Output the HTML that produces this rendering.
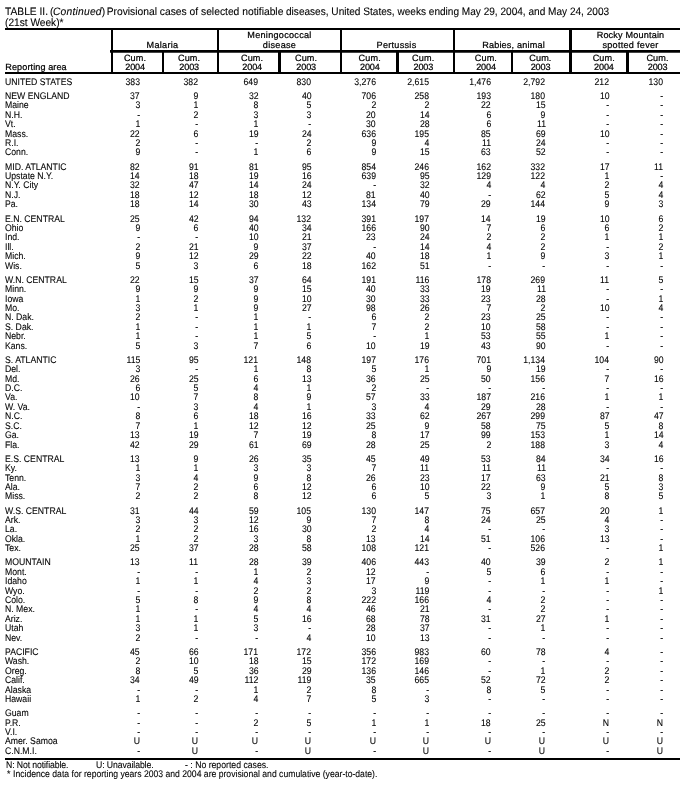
<!DOCTYPE html>
<html lang="en"><head><meta charset="utf-8"><title>TABLE II. Provisional cases of selected notifiable diseases</title>
<style>
html,body{margin:0;padding:0;background:#fff;}
body{width:687px;height:791px;position:relative;overflow:hidden;font-family:"Liberation Sans",sans-serif;color:#000;text-rendering:geometricPrecision;-webkit-text-stroke:0.1px #000;}
.l{position:absolute;background:#000;}
.r{position:absolute;left:0;width:687px;height:9.6px;line-height:9.6px;font-size:9.6px;white-space:nowrap;}
.r b{font-weight:normal;position:absolute;top:0;left:5.3px;transform:scaleX(0.905);transform-origin:0 50%;}
.r i{font-style:normal;position:absolute;top:0;transform:scaleX(0.905);transform-origin:100% 50%;}
.r i.m{margin-right:1px;}
.r .c0{right:546.9px;}
.r .c1{right:488.8px;}
.r .c2{right:428.6px;}
.r .c3{right:375.8px;}
.r .c4{right:311.0px;}
.r .c5{right:257.7px;}
.r .c6{right:196.0px;}
.r .c7{right:141.5px;}
.r .c8{right:77.8px;}
.r .c9{right:23.7px;}
.h{position:absolute;font-size:9.1px;line-height:9.1px;height:9.1px;letter-spacing:0.28px;white-space:nowrap;transform:translateX(-50%);-webkit-text-stroke:0.22px #000;}
.t em{letter-spacing:0.22px;margin-left:-0.5px}.t{position:absolute;left:5.3px;font-size:10.8px;line-height:10.8px;height:10.8px;white-space:nowrap;transform:scaleX(0.94);transform-origin:0 50%;}
.f{position:absolute;font-size:9.6px;line-height:9.6px;height:9.6px;white-space:nowrap;transform:scaleX(0.905);transform-origin:0 50%;}
</style></head><body>
<div class="t" style="top:7px;transform:scaleX(0.948)">TABLE II.</div>
<div class="t" style="top:7px;left:49.6px;transform:scaleX(0.953)">(<em>Continued</em>)<span style="margin-left:-1.5px"> </span>Provisional cases of selected notifiable</div>
<div class="t" style="top:7px;left:285.6px;transform:scaleX(0.933)">diseases, United States, weeks ending May 29, 2004, and May 24, 2003</div>
<div class="t" style="top:18px">(21st Week)*</div>
<div class="l" style="left:5px;top:28px;width:675px;height:2px"></div>
<div class="l" style="left:110px;top:50px;width:570px;height:2px"></div>
<div class="l" style="left:110px;top:52px;width:570px;height:1px;background:#444"></div>
<div class="l" style="left:5px;top:72px;width:675px;height:2px"></div>
<div class="l" style="left:5px;top:758px;width:675px;height:2px"></div>
<div class="l" style="left:111px;top:28px;width:2px;height:45px"></div>
<div class="l" style="left:217px;top:28px;width:2px;height:45px"></div>
<div class="l" style="left:340px;top:28px;width:2px;height:45px"></div>
<div class="l" style="left:453px;top:28px;width:2px;height:45px"></div>
<div class="l" style="left:569px;top:28px;width:3px;height:45px"></div>
<div class="l" style="left:162px;top:51px;width:2px;height:22px"></div>
<div class="l" style="left:278px;top:51px;width:3px;height:22px"></div>
<div class="l" style="left:396px;top:51px;width:3px;height:22px"></div>
<div class="l" style="left:511px;top:51px;width:2px;height:22px"></div>
<div class="l" style="left:626px;top:51px;width:3px;height:22px"></div>
<div class="h" style="left:5.3px;transform:none;letter-spacing:0.09px;top:63.00px">Reporting area</div>
<div class="h" style="left:162.5px;top:41.00px">Malaria</div>
<div class="h" style="left:279.5px;top:31.00px">Meningococcal</div>
<div class="h" style="left:279.5px;top:41.00px">disease</div>
<div class="h" style="left:396.5px;top:41.00px">Pertussis</div>
<div class="h" style="left:513.5px;top:41.00px;letter-spacing:0.18px">Rabies, animal</div>
<div class="h" style="left:630.5px;top:31.00px;letter-spacing:0.18px">Rocky Mountain</div>
<div class="h" style="left:630.5px;top:41.00px">spotted fever</div>
<div class="h" style="left:135.0px;top:54.00px;letter-spacing:0.12px">Cum.</div>
<div class="h" style="left:135.1px;top:63.00px;letter-spacing:-0.15px">2004</div>
<div class="h" style="left:189.1px;top:54.00px;letter-spacing:0.12px">Cum.</div>
<div class="h" style="left:189.2px;top:63.00px;letter-spacing:-0.15px">2003</div>
<div class="h" style="left:252.1px;top:54.00px;letter-spacing:0.12px">Cum.</div>
<div class="h" style="left:252.2px;top:63.00px;letter-spacing:-0.15px">2004</div>
<div class="h" style="left:306.1px;top:54.00px;letter-spacing:0.12px">Cum.</div>
<div class="h" style="left:306.2px;top:63.00px;letter-spacing:-0.15px">2003</div>
<div class="h" style="left:369.70000000000005px;top:54.00px;letter-spacing:0.12px">Cum.</div>
<div class="h" style="left:369.8px;top:63.00px;letter-spacing:-0.15px">2004</div>
<div class="h" style="left:423.20000000000005px;top:54.00px;letter-spacing:0.12px">Cum.</div>
<div class="h" style="left:423.3px;top:63.00px;letter-spacing:-0.15px">2003</div>
<div class="h" style="left:485.90000000000003px;top:54.00px;letter-spacing:0.12px">Cum.</div>
<div class="h" style="left:486.0px;top:63.00px;letter-spacing:-0.15px">2004</div>
<div class="h" style="left:540.4px;top:54.00px;letter-spacing:0.12px">Cum.</div>
<div class="h" style="left:540.5px;top:63.00px;letter-spacing:-0.15px">2003</div>
<div class="h" style="left:603.8000000000001px;top:54.00px;letter-spacing:0.12px">Cum.</div>
<div class="h" style="left:603.9000000000001px;top:63.00px;letter-spacing:-0.15px">2004</div>
<div class="h" style="left:657.5px;top:54.00px;letter-spacing:0.12px">Cum.</div>
<div class="h" style="left:657.6px;top:63.00px;letter-spacing:-0.15px">2003</div>
<div class="r" style="top:78.00px"><b>UNITED STATES</b><i class="c0">383</i><i class="c1">382</i><i class="c2">649</i><i class="c3">830</i><i class="c4">3,276</i><i class="c5">2,615</i><i class="c6">1,476</i><i class="c7">2,792</i><i class="c8">212</i><i class="c9">130</i></div>
<div class="r" style="top:92.00px"><b>NEW ENGLAND</b><i class="c0">37</i><i class="c1">9</i><i class="c2">32</i><i class="c3">40</i><i class="c4">706</i><i class="c5">258</i><i class="c6">193</i><i class="c7">180</i><i class="c8">10</i><i class="c9">-</i></div>
<div class="r" style="top:101.00px"><b>Maine</b><i class="c0">3</i><i class="c1">1</i><i class="c2">8</i><i class="c3">5</i><i class="c4">2</i><i class="c5">2</i><i class="c6">22</i><i class="c7">15</i><i class="c8">-</i><i class="c9">-</i></div>
<div class="r" style="top:111.00px"><b>N.H.</b><i class="c0">-</i><i class="c1">2</i><i class="c2">3</i><i class="c3">3</i><i class="c4">20</i><i class="c5">14</i><i class="c6">6</i><i class="c7">9</i><i class="c8">-</i><i class="c9">-</i></div>
<div class="r" style="top:120.00px"><b>Vt.</b><i class="c0">1</i><i class="c1">-</i><i class="c2">1</i><i class="c3">-</i><i class="c4">30</i><i class="c5">28</i><i class="c6">6</i><i class="c7">11</i><i class="c8">-</i><i class="c9">-</i></div>
<div class="r" style="top:130.00px"><b>Mass.</b><i class="c0">22</i><i class="c1">6</i><i class="c2">19</i><i class="c3">24</i><i class="c4">636</i><i class="c5">195</i><i class="c6">85</i><i class="c7">69</i><i class="c8">10</i><i class="c9">-</i></div>
<div class="r" style="top:139.00px"><b>R.I.</b><i class="c0">2</i><i class="c1">-</i><i class="c2">-</i><i class="c3">2</i><i class="c4">9</i><i class="c5">4</i><i class="c6">11</i><i class="c7">24</i><i class="c8">-</i><i class="c9">-</i></div>
<div class="r" style="top:148.00px"><b>Conn.</b><i class="c0">9</i><i class="c1">-</i><i class="c2">1</i><i class="c3">6</i><i class="c4">9</i><i class="c5">15</i><i class="c6">63</i><i class="c7">52</i><i class="c8">-</i><i class="c9">-</i></div>
<div class="r" style="top:163.00px"><b>MID. ATLANTIC</b><i class="c0">82</i><i class="c1">91</i><i class="c2">81</i><i class="c3">95</i><i class="c4">854</i><i class="c5">246</i><i class="c6">162</i><i class="c7">332</i><i class="c8">17</i><i class="c9">11</i></div>
<div class="r" style="top:172.00px"><b>Upstate N.Y.</b><i class="c0">14</i><i class="c1">18</i><i class="c2">19</i><i class="c3">16</i><i class="c4">639</i><i class="c5">95</i><i class="c6">129</i><i class="c7">122</i><i class="c8">1</i><i class="c9">-</i></div>
<div class="r" style="top:181.00px"><b>N.Y. City</b><i class="c0">32</i><i class="c1">47</i><i class="c2">14</i><i class="c3">24</i><i class="c4">-</i><i class="c5">32</i><i class="c6">4</i><i class="c7">4</i><i class="c8">2</i><i class="c9">4</i></div>
<div class="r" style="top:191.00px"><b>N.J.</b><i class="c0">18</i><i class="c1">12</i><i class="c2">18</i><i class="c3">12</i><i class="c4">81</i><i class="c5">40</i><i class="c6">-</i><i class="c7">62</i><i class="c8">5</i><i class="c9">4</i></div>
<div class="r" style="top:200.00px"><b>Pa.</b><i class="c0">18</i><i class="c1">14</i><i class="c2">30</i><i class="c3">43</i><i class="c4">134</i><i class="c5">79</i><i class="c6">29</i><i class="c7">144</i><i class="c8">9</i><i class="c9">3</i></div>
<div class="r" style="top:215.00px"><b>E.N. CENTRAL</b><i class="c0">25</i><i class="c1">42</i><i class="c2">94</i><i class="c3">132</i><i class="c4">391</i><i class="c5">197</i><i class="c6">14</i><i class="c7">19</i><i class="c8">10</i><i class="c9">6</i></div>
<div class="r" style="top:224.00px"><b>Ohio</b><i class="c0">9</i><i class="c1">6</i><i class="c2">40</i><i class="c3">34</i><i class="c4">166</i><i class="c5">90</i><i class="c6">7</i><i class="c7">6</i><i class="c8">6</i><i class="c9">2</i></div>
<div class="r" style="top:233.00px"><b>Ind.</b><i class="c0">-</i><i class="c1">-</i><i class="c2">10</i><i class="c3">21</i><i class="c4">23</i><i class="c5">24</i><i class="c6">2</i><i class="c7">2</i><i class="c8">1</i><i class="c9">1</i></div>
<div class="r" style="top:243.00px"><b>Ill.</b><i class="c0">2</i><i class="c1">21</i><i class="c2">9</i><i class="c3">37</i><i class="c4">-</i><i class="c5">14</i><i class="c6">4</i><i class="c7">2</i><i class="c8">-</i><i class="c9">2</i></div>
<div class="r" style="top:252.00px"><b>Mich.</b><i class="c0">9</i><i class="c1">12</i><i class="c2">29</i><i class="c3">22</i><i class="c4">40</i><i class="c5">18</i><i class="c6">1</i><i class="c7">9</i><i class="c8">3</i><i class="c9">1</i></div>
<div class="r" style="top:262.00px"><b>Wis.</b><i class="c0">5</i><i class="c1">3</i><i class="c2">6</i><i class="c3">18</i><i class="c4">162</i><i class="c5">51</i><i class="c6">-</i><i class="c7">-</i><i class="c8">-</i><i class="c9">-</i></div>
<div class="r" style="top:276.00px"><b>W.N. CENTRAL</b><i class="c0">22</i><i class="c1">15</i><i class="c2">37</i><i class="c3">64</i><i class="c4">191</i><i class="c5">116</i><i class="c6">178</i><i class="c7">269</i><i class="c8">11</i><i class="c9">5</i></div>
<div class="r" style="top:285.00px"><b>Minn.</b><i class="c0">9</i><i class="c1">9</i><i class="c2">9</i><i class="c3">15</i><i class="c4">40</i><i class="c5">33</i><i class="c6">19</i><i class="c7">11</i><i class="c8">-</i><i class="c9">-</i></div>
<div class="r" style="top:295.00px"><b>Iowa</b><i class="c0">1</i><i class="c1">2</i><i class="c2">9</i><i class="c3">10</i><i class="c4">30</i><i class="c5">33</i><i class="c6">23</i><i class="c7">28</i><i class="c8">-</i><i class="c9">1</i></div>
<div class="r" style="top:304.00px"><b>Mo.</b><i class="c0">3</i><i class="c1">1</i><i class="c2">9</i><i class="c3">27</i><i class="c4">98</i><i class="c5">26</i><i class="c6">7</i><i class="c7">2</i><i class="c8">10</i><i class="c9">4</i></div>
<div class="r" style="top:313.00px"><b>N. Dak.</b><i class="c0">2</i><i class="c1">-</i><i class="c2">1</i><i class="c3">-</i><i class="c4">6</i><i class="c5">2</i><i class="c6">23</i><i class="c7">25</i><i class="c8">-</i><i class="c9">-</i></div>
<div class="r" style="top:323.00px"><b>S. Dak.</b><i class="c0">1</i><i class="c1">-</i><i class="c2">1</i><i class="c3">1</i><i class="c4">7</i><i class="c5">2</i><i class="c6">10</i><i class="c7">58</i><i class="c8">-</i><i class="c9">-</i></div>
<div class="r" style="top:332.00px"><b>Nebr.</b><i class="c0">1</i><i class="c1">-</i><i class="c2">1</i><i class="c3">5</i><i class="c4">-</i><i class="c5">1</i><i class="c6">53</i><i class="c7">55</i><i class="c8">1</i><i class="c9">-</i></div>
<div class="r" style="top:342.00px"><b>Kans.</b><i class="c0">5</i><i class="c1">3</i><i class="c2">7</i><i class="c3">6</i><i class="c4">10</i><i class="c5">19</i><i class="c6">43</i><i class="c7">90</i><i class="c8">-</i><i class="c9">-</i></div>
<div class="r" style="top:356.00px"><b>S. ATLANTIC</b><i class="c0">115</i><i class="c1">95</i><i class="c2">121</i><i class="c3">148</i><i class="c4">197</i><i class="c5">176</i><i class="c6">701</i><i class="c7">1,134</i><i class="c8">104</i><i class="c9">90</i></div>
<div class="r" style="top:365.00px"><b>Del.</b><i class="c0">3</i><i class="c1">-</i><i class="c2">1</i><i class="c3">8</i><i class="c4">5</i><i class="c5">1</i><i class="c6">9</i><i class="c7">19</i><i class="c8">-</i><i class="c9">-</i></div>
<div class="r" style="top:375.00px"><b>Md.</b><i class="c0">26</i><i class="c1">25</i><i class="c2">6</i><i class="c3">13</i><i class="c4">36</i><i class="c5">25</i><i class="c6">50</i><i class="c7">156</i><i class="c8">7</i><i class="c9">16</i></div>
<div class="r" style="top:384.00px"><b>D.C.</b><i class="c0">6</i><i class="c1">5</i><i class="c2">4</i><i class="c3">1</i><i class="c4">2</i><i class="c5">-</i><i class="c6">-</i><i class="c7">-</i><i class="c8">-</i><i class="c9">-</i></div>
<div class="r" style="top:393.00px"><b>Va.</b><i class="c0">10</i><i class="c1">7</i><i class="c2">8</i><i class="c3">9</i><i class="c4">57</i><i class="c5">33</i><i class="c6">187</i><i class="c7">216</i><i class="c8">1</i><i class="c9">1</i></div>
<div class="r" style="top:403.00px"><b>W. Va.</b><i class="c0">-</i><i class="c1">3</i><i class="c2">4</i><i class="c3">1</i><i class="c4">3</i><i class="c5">4</i><i class="c6">29</i><i class="c7">28</i><i class="c8">-</i><i class="c9">-</i></div>
<div class="r" style="top:412.00px"><b>N.C.</b><i class="c0">8</i><i class="c1">6</i><i class="c2">18</i><i class="c3">16</i><i class="c4">33</i><i class="c5">62</i><i class="c6">267</i><i class="c7">299</i><i class="c8">87</i><i class="c9">47</i></div>
<div class="r" style="top:422.00px"><b>S.C.</b><i class="c0">7</i><i class="c1">1</i><i class="c2">12</i><i class="c3">12</i><i class="c4">25</i><i class="c5">9</i><i class="c6">58</i><i class="c7">75</i><i class="c8">5</i><i class="c9">8</i></div>
<div class="r" style="top:431.00px"><b>Ga.</b><i class="c0">13</i><i class="c1">19</i><i class="c2">7</i><i class="c3">19</i><i class="c4">8</i><i class="c5">17</i><i class="c6">99</i><i class="c7">153</i><i class="c8">1</i><i class="c9">14</i></div>
<div class="r" style="top:441.00px"><b>Fla.</b><i class="c0">42</i><i class="c1">29</i><i class="c2">61</i><i class="c3">69</i><i class="c4">28</i><i class="c5">25</i><i class="c6">2</i><i class="c7">188</i><i class="c8">3</i><i class="c9">4</i></div>
<div class="r" style="top:455.00px"><b>E.S. CENTRAL</b><i class="c0">13</i><i class="c1">9</i><i class="c2">26</i><i class="c3">35</i><i class="c4">45</i><i class="c5">49</i><i class="c6">53</i><i class="c7">84</i><i class="c8">34</i><i class="c9">16</i></div>
<div class="r" style="top:464.00px"><b>Ky.</b><i class="c0">1</i><i class="c1">1</i><i class="c2">3</i><i class="c3">3</i><i class="c4">7</i><i class="c5">11</i><i class="c6">11</i><i class="c7">11</i><i class="c8">-</i><i class="c9">-</i></div>
<div class="r" style="top:474.00px"><b>Tenn.</b><i class="c0">3</i><i class="c1">4</i><i class="c2">9</i><i class="c3">8</i><i class="c4">26</i><i class="c5">23</i><i class="c6">17</i><i class="c7">63</i><i class="c8">21</i><i class="c9">8</i></div>
<div class="r" style="top:483.00px"><b>Ala.</b><i class="c0">7</i><i class="c1">2</i><i class="c2">6</i><i class="c3">12</i><i class="c4">6</i><i class="c5">10</i><i class="c6">22</i><i class="c7">9</i><i class="c8">5</i><i class="c9">3</i></div>
<div class="r" style="top:492.00px"><b>Miss.</b><i class="c0">2</i><i class="c1">2</i><i class="c2">8</i><i class="c3">12</i><i class="c4">6</i><i class="c5">5</i><i class="c6">3</i><i class="c7">1</i><i class="c8">8</i><i class="c9">5</i></div>
<div class="r" style="top:507.00px"><b>W.S. CENTRAL</b><i class="c0">31</i><i class="c1">44</i><i class="c2">59</i><i class="c3">105</i><i class="c4">130</i><i class="c5">147</i><i class="c6">75</i><i class="c7">657</i><i class="c8">20</i><i class="c9">1</i></div>
<div class="r" style="top:516.00px"><b>Ark.</b><i class="c0">3</i><i class="c1">3</i><i class="c2">12</i><i class="c3">9</i><i class="c4">7</i><i class="c5">8</i><i class="c6">24</i><i class="c7">25</i><i class="c8">4</i><i class="c9">-</i></div>
<div class="r" style="top:525.00px"><b>La.</b><i class="c0">2</i><i class="c1">2</i><i class="c2">16</i><i class="c3">30</i><i class="c4">2</i><i class="c5">4</i><i class="c6">-</i><i class="c7">-</i><i class="c8">3</i><i class="c9">-</i></div>
<div class="r" style="top:535.00px"><b>Okla.</b><i class="c0">1</i><i class="c1">2</i><i class="c2">3</i><i class="c3">8</i><i class="c4">13</i><i class="c5">14</i><i class="c6">51</i><i class="c7">106</i><i class="c8">13</i><i class="c9">-</i></div>
<div class="r" style="top:544.00px"><b>Tex.</b><i class="c0">25</i><i class="c1">37</i><i class="c2">28</i><i class="c3">58</i><i class="c4">108</i><i class="c5">121</i><i class="c6">-</i><i class="c7">526</i><i class="c8">-</i><i class="c9">1</i></div>
<div class="r" style="top:558.00px"><b>MOUNTAIN</b><i class="c0">13</i><i class="c1">11</i><i class="c2">28</i><i class="c3">39</i><i class="c4">406</i><i class="c5">443</i><i class="c6">40</i><i class="c7">39</i><i class="c8">2</i><i class="c9">1</i></div>
<div class="r" style="top:568.00px"><b>Mont.</b><i class="c0">-</i><i class="c1">-</i><i class="c2">1</i><i class="c3">2</i><i class="c4">12</i><i class="c5">-</i><i class="c6">5</i><i class="c7">6</i><i class="c8">-</i><i class="c9">-</i></div>
<div class="r" style="top:577.00px"><b>Idaho</b><i class="c0">1</i><i class="c1">1</i><i class="c2">4</i><i class="c3">3</i><i class="c4">17</i><i class="c5">9</i><i class="c6">-</i><i class="c7">1</i><i class="c8">1</i><i class="c9">-</i></div>
<div class="r" style="top:587.00px"><b>Wyo.</b><i class="c0">-</i><i class="c1">-</i><i class="c2">2</i><i class="c3">2</i><i class="c4">3</i><i class="c5">119</i><i class="c6">-</i><i class="c7">-</i><i class="c8">-</i><i class="c9">1</i></div>
<div class="r" style="top:596.00px"><b>Colo.</b><i class="c0">5</i><i class="c1">8</i><i class="c2">9</i><i class="c3">8</i><i class="c4">222</i><i class="c5">166</i><i class="c6">4</i><i class="c7">2</i><i class="c8">-</i><i class="c9">-</i></div>
<div class="r" style="top:605.00px"><b>N. Mex.</b><i class="c0">1</i><i class="c1">-</i><i class="c2">4</i><i class="c3">4</i><i class="c4">46</i><i class="c5">21</i><i class="c6">-</i><i class="c7">2</i><i class="c8">-</i><i class="c9">-</i></div>
<div class="r" style="top:615.00px"><b>Ariz.</b><i class="c0">1</i><i class="c1">1</i><i class="c2">5</i><i class="c3">16</i><i class="c4">68</i><i class="c5">78</i><i class="c6">31</i><i class="c7">27</i><i class="c8">1</i><i class="c9">-</i></div>
<div class="r" style="top:624.00px"><b>Utah</b><i class="c0">3</i><i class="c1">1</i><i class="c2">3</i><i class="c3">-</i><i class="c4">28</i><i class="c5">37</i><i class="c6">-</i><i class="c7">1</i><i class="c8">-</i><i class="c9">-</i></div>
<div class="r" style="top:634.00px"><b>Nev.</b><i class="c0">2</i><i class="c1">-</i><i class="c2">-</i><i class="c3">4</i><i class="c4">10</i><i class="c5">13</i><i class="c6">-</i><i class="c7">-</i><i class="c8">-</i><i class="c9">-</i></div>
<div class="r" style="top:648.00px"><b>PACIFIC</b><i class="c0">45</i><i class="c1">66</i><i class="c2">171</i><i class="c3">172</i><i class="c4">356</i><i class="c5">983</i><i class="c6">60</i><i class="c7">78</i><i class="c8">4</i><i class="c9">-</i></div>
<div class="r" style="top:657.00px"><b>Wash.</b><i class="c0">2</i><i class="c1">10</i><i class="c2">18</i><i class="c3">15</i><i class="c4">172</i><i class="c5">169</i><i class="c6">-</i><i class="c7">-</i><i class="c8">-</i><i class="c9">-</i></div>
<div class="r" style="top:667.00px"><b>Oreg.</b><i class="c0">8</i><i class="c1">5</i><i class="c2">36</i><i class="c3">29</i><i class="c4">136</i><i class="c5">146</i><i class="c6">-</i><i class="c7">1</i><i class="c8">2</i><i class="c9">-</i></div>
<div class="r" style="top:676.00px"><b>Calif.</b><i class="c0">34</i><i class="c1">49</i><i class="c2">112</i><i class="c3">119</i><i class="c4">35</i><i class="c5">665</i><i class="c6">52</i><i class="c7">72</i><i class="c8">2</i><i class="c9">-</i></div>
<div class="r" style="top:686.00px"><b>Alaska</b><i class="c0">-</i><i class="c1">-</i><i class="c2">1</i><i class="c3">2</i><i class="c4">8</i><i class="c5">-</i><i class="c6">8</i><i class="c7">5</i><i class="c8">-</i><i class="c9">-</i></div>
<div class="r" style="top:695.00px"><b>Hawaii</b><i class="c0">1</i><i class="c1">2</i><i class="c2">4</i><i class="c3">7</i><i class="c4">5</i><i class="c5">3</i><i class="c6">-</i><i class="c7">-</i><i class="c8">-</i><i class="c9">-</i></div>
<div class="r" style="top:709.00px"><b>Guam</b><i class="c0">-</i><i class="c1">-</i><i class="c2">-</i><i class="c3">-</i><i class="c4">-</i><i class="c5">-</i><i class="c6">-</i><i class="c7">-</i><i class="c8">-</i><i class="c9">-</i></div>
<div class="r" style="top:719.00px"><b>P.R.</b><i class="c0">-</i><i class="c1">-</i><i class="c2">2</i><i class="c3">5</i><i class="c4">1</i><i class="c5">1</i><i class="c6">18</i><i class="c7">25</i><i class="c8">N</i><i class="c9">N</i></div>
<div class="r" style="top:728.00px"><b>V.I.</b><i class="c0">-</i><i class="c1">-</i><i class="c2">-</i><i class="c3">-</i><i class="c4">-</i><i class="c5">-</i><i class="c6">-</i><i class="c7">-</i><i class="c8">-</i><i class="c9">-</i></div>
<div class="r" style="top:737.00px"><b>Amer. Samoa</b><i class="c0">U</i><i class="c1">U</i><i class="c2">U</i><i class="c3">U</i><i class="c4">U</i><i class="c5">U</i><i class="c6">U</i><i class="c7 m">U</i><i class="c8">U</i><i class="c9">U</i></div>
<div class="r" style="top:747.00px"><b>C.N.M.I.</b><i class="c0">-</i><i class="c1">U</i><i class="c2">-</i><i class="c3">U</i><i class="c4">-</i><i class="c5">U</i><i class="c6">-</i><i class="c7 m">U</i><i class="c8">-</i><i class="c9">U</i></div>
<div class="f" style="left:5.5px;top:761px;letter-spacing:-0.12px">N: Not notifiable.</div>
<div class="f" style="left:95.6px;top:761px;letter-spacing:-0.1px">U: Unavailable.</div>
<div class="f" style="left:185px;top:761px">- : No reported cases.</div>
<div class="f" style="left:6.9px;top:770px">*</div>
<div class="f" style="left:13.4px;top:770px;transform:scaleX(0.899)">Incidence data for reporting years 2003 and 2004 are provisional and cumulative (year-to-date).</div>
</body></html>
